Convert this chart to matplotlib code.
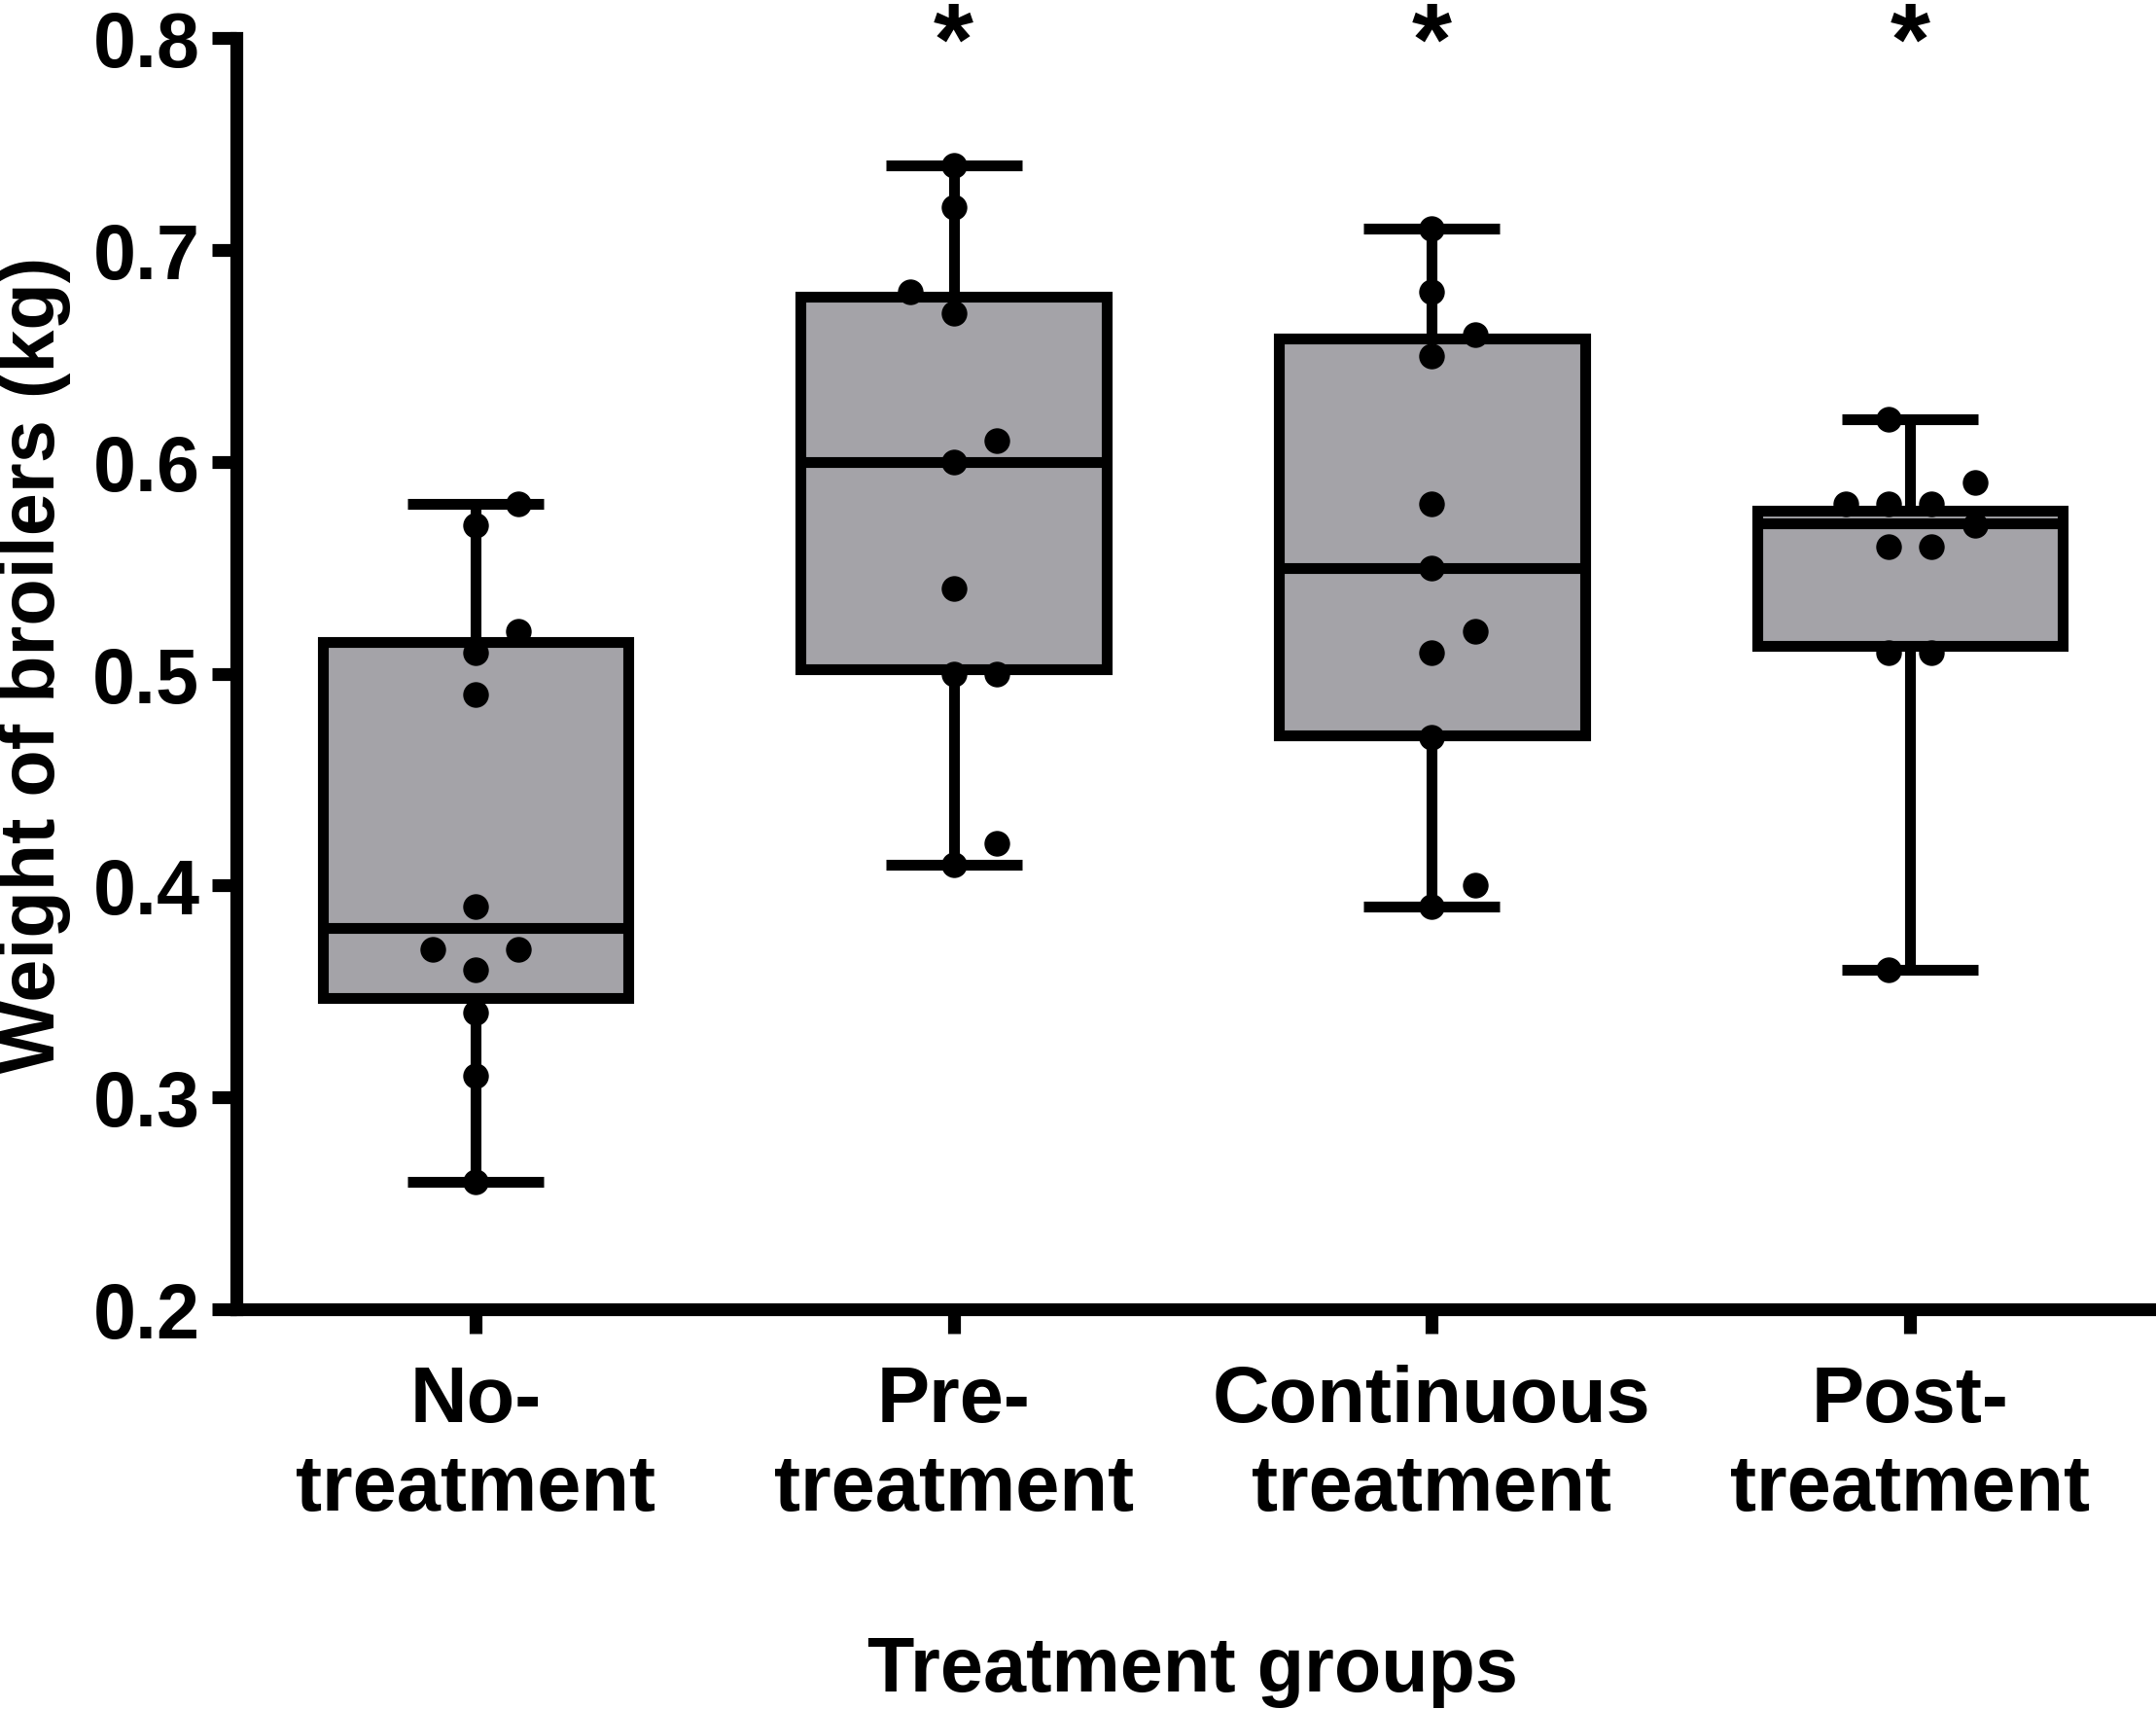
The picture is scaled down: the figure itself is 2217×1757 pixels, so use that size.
import matplotlib
matplotlib.use("Agg")
import matplotlib.pyplot as plt

# ---------------- data ----------------
groups = ["No-\ntreatment", "Pre-\ntreatment", "Continuous\ntreatment", "Post-\ntreatment"]

no_treatment = [0.26, 0.31, 0.34, 0.36, 0.37, 0.37, 0.39, 0.49, 0.51, 0.52, 0.57, 0.58]
pre_treatment = [0.41, 0.42, 0.50, 0.50, 0.54, 0.60, 0.61, 0.67, 0.68, 0.72, 0.74]
continuous_treatment = [0.39, 0.40, 0.47, 0.51, 0.52, 0.55, 0.58, 0.65, 0.66, 0.68, 0.71]
post_treatment = [0.36, 0.51, 0.51, 0.56, 0.56, 0.57, 0.58, 0.58, 0.58, 0.59, 0.62]

# box summaries as drawn (min, Q1, median, Q3, max)
whisker_low = [0.26, 0.41, 0.39, 0.36]
q1 = [0.347, 0.502, 0.471, 0.513]
median = [0.380, 0.600, 0.550, 0.571]
q3 = [0.515, 0.678, 0.658, 0.577]
whisker_high = [0.58, 0.74, 0.71, 0.62]

significance = ["", "*", "*", "*"]
y_ticks = [0.2, 0.3, 0.4, 0.5, 0.6, 0.7, 0.8]
y_label = "Weight of broilers (kg)"
x_label = "Treatment groups"

# ---------------- layout / style ----------------
# scatter column slot of each point (GraphPad-style spreading)
jitter_slots = [
    [0, 0, 0, 0, -1, 1, 0, 0, 0, 1, 0, 1],
    [0, 1, 0, 1, 0, 0, 1, 0, -1, 0, 0],
    [0, 1, 0, 0, 1, 0, 0, 0, 1, 0, 0],
    [-0.5, -0.5, 0.5, -0.5, 0.5, 1.5, -1.5, -0.5, 0.5, 1.5, -0.5],
]
slot_step = 0.09
series = [no_treatment, pre_treatment, continuous_treatment, post_treatment]

plt.rcParams["font.family"] = ["Liberation Sans", "DejaVu Sans"]
plt.rcParams["font.weight"] = "bold"

FS = 57
fig = plt.figure(figsize=(22.17, 17.58), dpi=100)
ax = fig.add_axes([243 / 2217, 1 - 1347 / 1758, (2210 - 243) / 2217, (1347 - 40) / 1758])

positions = list(range(len(groups)))
stats = []
for i in positions:
    stats.append(dict(whislo=whisker_low[i], q1=q1[i], med=median[i], q3=q3[i],
                      whishi=whisker_high[i], fliers=[]))

ax.bxp(stats, positions=positions, widths=0.64, capwidths=0.285, patch_artist=True,
       showfliers=False,
       boxprops=dict(facecolor="#a4a3a8", edgecolor="black", linewidth=8, joinstyle="miter"),
       whiskerprops=dict(color="black", linewidth=8, solid_capstyle="butt"),
       capprops=dict(color="black", linewidth=8, solid_capstyle="butt"),
       medianprops=dict(color="black", linewidth=8, solid_capstyle="butt"))

for i, vals in enumerate(series):
    xs = [i + s * slot_step for s in jitter_slots[i]]
    ax.plot(xs, vals, linestyle="none", marker="o", markersize=18,
            color="black", zorder=5, clip_on=False)

for i, s in enumerate(significance):
    if s:
        ax.text(i, 0.783, s, ha="center", va="baseline", fontsize=76,
                fontweight="bold", clip_on=False)

ax.set_xlim(-0.5, 3.5)
ax.set_ylim(0.2, 0.8)
ax.set_yticks(y_ticks)
ax.set_yticklabels([f"{v:.1f}" for v in y_ticks])
ax.set_xticks(positions)
ax.set_xticklabels(groups, linespacing=1.27, fontsize=58.5)

for side in ("top", "right"):
    ax.spines[side].set_visible(False)
for side in ("left", "bottom"):
    ax.spines[side].set_linewidth(9.5)

ax.tick_params(axis="both", which="major", length=18, width=9.5)
ax.tick_params(axis="y", pad=9, labelsize=FS)
ax.tick_params(axis="x", pad=22)

ax.set_ylabel(y_label, fontsize=FS, fontweight="bold", va="center")
ax.yaxis.set_label_coords(-0.1057, 0.508)
ax.set_xlabel(x_label, fontsize=FS, fontweight="bold", va="center")
ax.xaxis.set_label_coords(0.5, -0.284)

fig.savefig("out.png", dpi=100, facecolor="white")
